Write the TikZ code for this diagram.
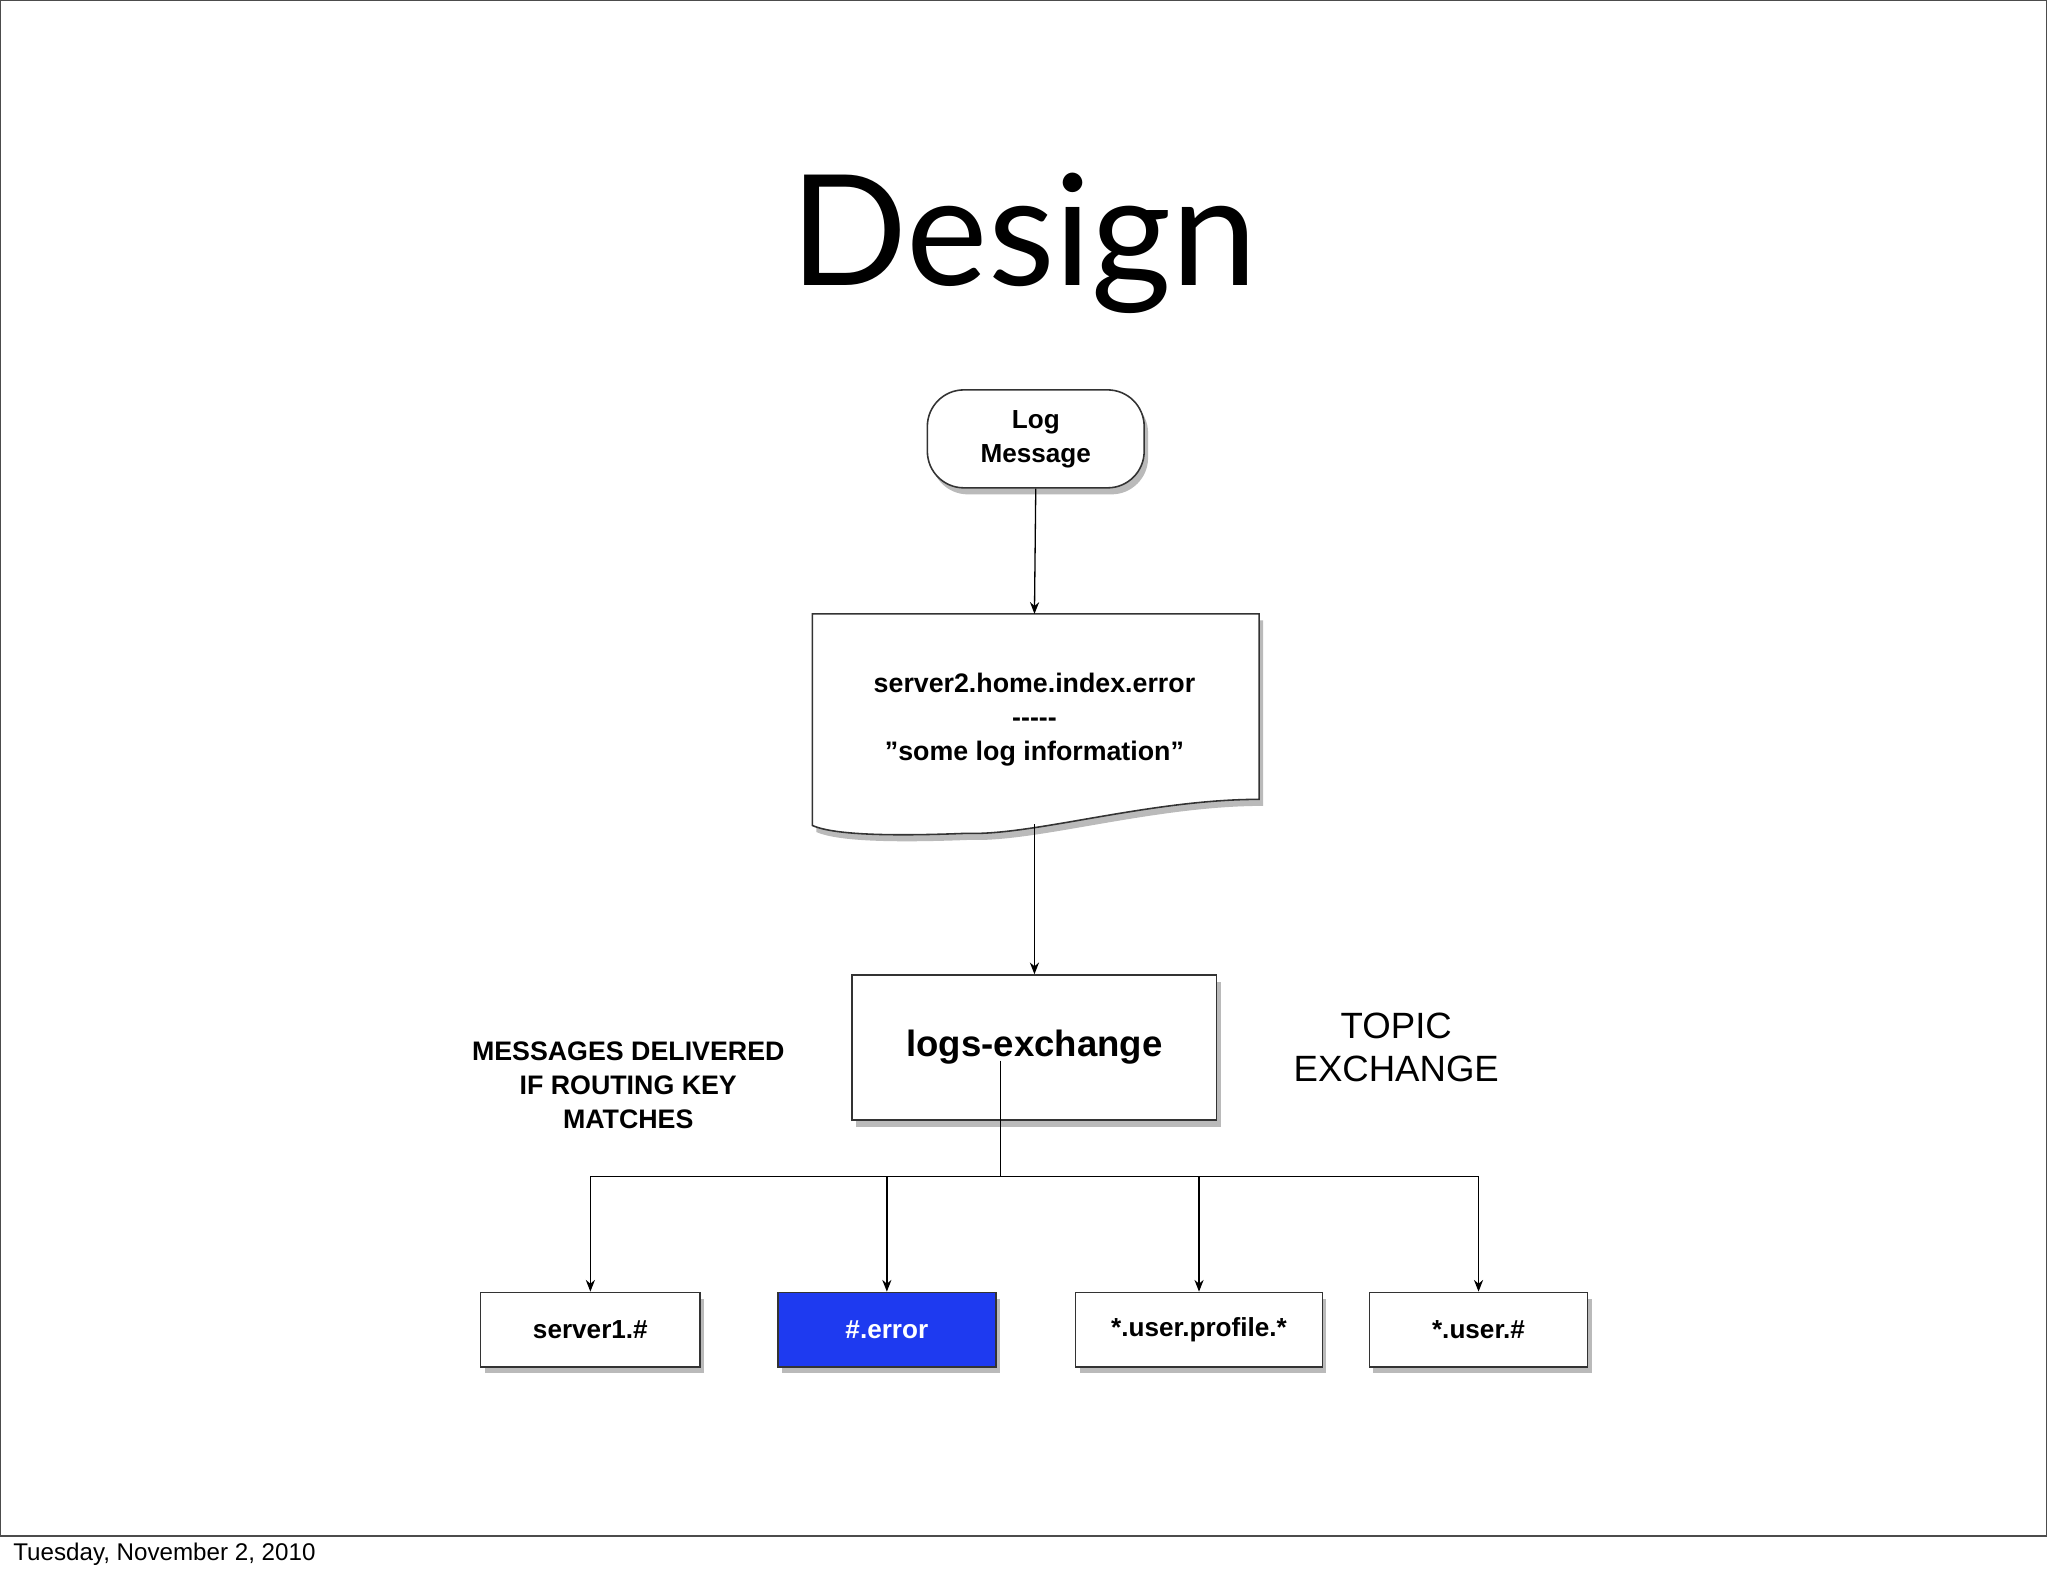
\documentclass[tikz,border=0pt]{standalone}
\usepackage{fontspec}
\setmainfont{Liberation Sans}
\newfontfamily\titlefont{Lato}
\usetikzlibrary{shadows,arrows.meta}
\begin{document}
\begin{tikzpicture}[x=1pt,y=-1pt,
  shd/.style={drop shadow={shadow xshift=3pt,shadow yshift=-5pt,fill=black!45,opacity=0.6}},
  box/.style={draw=black!80,line width=1.2pt,fill=white,shd,font=\bfseries\fontsize{20}{22}\selectfont,inner sep=0pt},
  conn/.style={line width=1pt,-{Stealth[length=9pt,width=7pt]}},
  lbl/.style={align=center,inner sep=0pt}]
\useasboundingbox (0,0) rectangle (1568,1207);
\fill[white] (0,0) rectangle (1568,1207);
\draw[black!70,line width=1pt] (0.5,0.5) rectangle (1567,1176);
\node[anchor=west,inner sep=0pt,font=\fontsize{18.5}{20}\selectfont] (foot) at (10,1190) {Tuesday, November 2, 2010};
\node[inner sep=0pt,font=\titlefont\fontsize{118}{120}\selectfont] (title) at (784,186) {Design};

\node[box,rounded corners=28pt,minimum width=166pt,minimum height=75pt,align=center,font=\bfseries\fontsize{20}{26}\selectfont] (log) at (793,336) {Log\\Message};

% document shape
\draw[draw=black!80,line width=1.2pt,fill=white,shd] (622,470) -- (964,470) -- (964,612)
  .. controls (880,612) and (790,640) .. (740,638) .. controls (690,640) and (640,640) .. (622,632) -- cycle;
\node[lbl,font=\bfseries\fontsize{20.5}{26}\selectfont] (doc) at (792,551) {server2.home.index.error\\{-}{-}{-}{-}{-}\\\symbol{34}some log information\symbol{34}};
\coordinate (docb) at (792,631);
\coordinate (doct) at (792,470);

\node[box,minimum width=279pt,minimum height=111pt] (ex) at (792,802) {};
\node[lbl,font=\bfseries\fontsize{28}{30}\selectfont] (extext) at (792,802) {logs-exchange};

\node[lbl,font=\bfseries\fontsize{20.5}{26}\selectfont] (msg) at (481,831) {MESSAGES DELIVERED\\IF ROUTING KEY\\MATCHES};
\node[lbl,font=\fontsize{28}{33}\selectfont] (topic) at (1069,802) {TOPIC\\EXCHANGE};

\node[box,minimum width=168pt,minimum height=57pt] (q1) at (452,1018) {server1.\#};
\node[box,fill={rgb,255:red,30;green,58;blue,240},text=white,minimum width=167pt,minimum height=57pt] (q2) at (679,1018) {\#.error};
\node[box,minimum width=189pt,minimum height=57pt] (q3) at (918,1018) {*.user.profile.*};
\node[box,minimum width=167pt,minimum height=57pt] (q4) at (1132,1018) {*.user.\#};

\draw[conn] (log.south) -- (doct);
\draw[conn] (docb) -- (ex.north);
\coordinate (split) at (766,901);
\coordinate (exin) at (766,812);
\draw[line width=1pt] (exin) -- (split);
\draw[line width=1pt] (452,901) -- (1132,901);
\draw[conn] (452,901) -- (q1.north);
\draw[conn] (679,901) -- (q2.north);
\draw[conn] (918,901) -- (q3.north);
\draw[conn] (1132,901) -- (q4.north);
\end{tikzpicture}
\end{document}
